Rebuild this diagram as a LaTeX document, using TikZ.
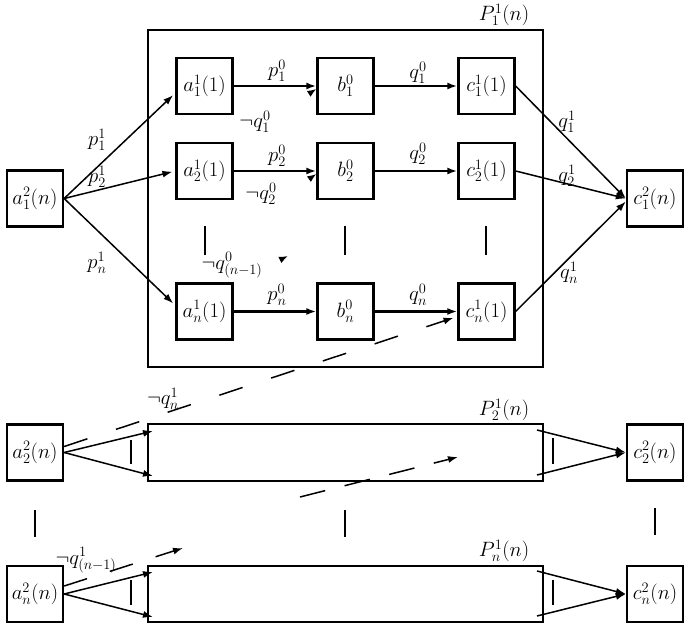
\documentclass[tikz,border=0pt]{standalone}
\usetikzlibrary{arrows.meta}
\newcommand{\fsz}{\fontsize{19.5}{23}\selectfont}
\begin{document}
\begin{tikzpicture}[x=1pt,y=-1pt,
  box/.style={draw, line width=2.3pt, minimum width=56pt, minimum height=56pt, inner sep=0pt, font=\fsz},
  bigbox/.style={draw, line width=2.3pt},
  lab/.style={inner sep=0pt, font=\fsz},
  arr/.style={line width=1.5pt, -{Latex[length=10pt,width=7pt]}},
  thickarr/.style={line width=2.3pt, -{Latex[length=10pt,width=7pt]}},
  ghost/.style={line width=1.5pt, dash pattern=on 0pt off 2000pt, -{Latex[length=9pt,width=7pt]}},
  dasharr/.style={line width=1.5pt, -{Latex[length=10pt,width=7pt]}},
  vbar/.style={line width=1.8pt}]
\useasboundingbox (0,0) rectangle (691,626);
% ---------- top block ----------
\coordinate (P1nw) at (148,30);
\coordinate (P1se) at (543,367);
\draw[bigbox] (P1nw) rectangle (P1se);
\node[lab] (P1l) at (504,15) {$P_1^1(n)$};
\node[box] (A12) at (35,198.5) {$a_1^2(n)$};
\node[box] (C12) at (655,198.5) {$c_1^2(n)$};
\node[box] (a11) at (204.5,86) {$a_1^1(1)$};
\node[box] (a21) at (204.5,171) {$a_2^1(1)$};
\node[box] (an1) at (204.5,311.5) {$a_n^1(1)$};
\node[box] (b11) at (345.5,86) {$b_1^0$};
\node[box] (b21) at (345.5,171) {$b_2^0$};
\node[box] (bn1) at (345.5,311.5) {$b_n^0$};
\node[box] (c11) at (486.5,86) {$c_1^1(1)$};
\node[box] (c21) at (486.5,171) {$c_2^1(1)$};
\node[box] (cn1) at (486.5,311.5) {$c_n^1(1)$};
% arrows from a_1^2(n)
\draw[arr, shorten >=3pt] (A12.east) -- ([yshift=-7pt]a11.west);
\draw[arr, shorten >=3pt] (A12.east) -- (a21.west);
\draw[arr, shorten >=3pt] (A12.east) -- ([yshift=6pt]an1.west);
\node[lab] (lp11) at (97,140) {$p_1^1$};
\node[lab] (lp21) at (97,177) {$p_2^1$};
\node[lab] (lpn1) at (97,263) {$p_n^1$};
% horizontal arrows
\draw[thickarr] (a11.east) -- (b11.west);
\draw[thickarr] (a21.east) -- (b21.west);
\draw[thickarr] (an1.east) -- (bn1.west);
\draw[thickarr] (b11.east) -- (c11.west);
\draw[thickarr] (b21.east) -- (c21.west);
\draw[thickarr] (bn1.east) -- (cn1.west);
\node[lab] (lp10) at (277,71) {$p_1^0$};
\node[lab] (lp20) at (277,156) {$p_2^0$};
\node[lab] (lpn0) at (277,295) {$p_n^0$};
\node[lab] (lq10) at (418,73) {$q_1^0$};
\node[lab] (lq20) at (418,154) {$q_2^0$};
\node[lab] (lqn0) at (418,295) {$q_n^0$};
% arrows to c_1^2(n)
\draw[arr] (c11.east) -- (C12.west);
\draw[arr] (c21.east) -- (C12.west);
\draw[arr] (cn1.east) -- ([yshift=-3pt]C12.west);
\node[lab] (lq11) at (567,122) {$q_1^1$};
\node[lab] (lq21) at (567,176) {$q_2^1$};
\node[lab] (lqn1) at (569,273) {$q_n^1$};
% vertical dots
\draw[vbar] (205,226) -- (205,255);
\draw[vbar] (345,226) -- (345,255);
\draw[vbar] (486,226) -- (486,255);
% negated back arrows (only tips visible)
\coordinate (a31) at (233,232);
\coordinate (bm1) at (288,256);
\draw[ghost] (a21.north east) -- ([yshift=-3pt]b11.west);
\draw[ghost] (a31) -- ([yshift=-3pt]b21.west);
\draw[ghost] (an1.north east) -- (bm1);
\node[lab] (lnq10) at (255,122) {$\neg q_1^0$};
\node[lab] (lnq20) at (261,194) {$\neg q_2^0$};
\node[lab] (lnqm0) at (232,265) {$\neg q_{(n-1)}^0$};
% ---------- second block ----------
\coordinate (P2nw) at (148,424);
\coordinate (P2se) at (543,481);
\coordinate (P2sw) at (148,481);
\coordinate (P2ne) at (543,424);
\draw[bigbox] (P2nw) rectangle (P2se);
\node[lab] (P2l) at (504,410) {$P_2^1(n)$};
\node[box] (A22) at (35,452.5) {$a_2^2(n)$};
\node[box] (C22) at (655,452.5) {$c_2^2(n)$};
\draw[arr] (A22.east) -- ([xshift=5pt,yshift=-7pt]P2nw);
\draw[arr] (A22.east) -- ([xshift=5pt,yshift=5pt]P2sw);
\draw[arr] ([xshift=-6pt,yshift=-6pt]P2ne) -- (C22.west);
\draw[arr] ([xshift=-6pt,yshift=6pt]P2se) -- (C22.west);
\draw[vbar] (131,440) -- (131,464);
\draw[vbar] (553,438) -- (553,464);
% ---------- dots row ----------
\draw[vbar] (35,510) -- (35,537);
\draw[vbar] (345,510) -- (345,537);
\draw[vbar] (655,508) -- (655,535);
% ---------- last block ----------
\coordinate (Pnnw) at (148,566);
\coordinate (Pnse) at (543,622);
\coordinate (Pnsw) at (148,622);
\coordinate (Pnne) at (543,566);
\draw[bigbox] (Pnnw) rectangle (Pnse);
\node[lab] (Pnl) at (504,551) {$P_n^1(n)$};
\node[box] (An2) at (35,594) {$a_n^2(n)$};
\node[box] (Cn2) at (655,594) {$c_n^2(n)$};
\draw[arr] (An2.east) -- ([xshift=5pt,yshift=-6pt]Pnnw);
\draw[arr] (An2.east) -- ([xshift=5pt,yshift=5pt]Pnsw);
\draw[arr] ([xshift=-6pt,yshift=-5pt]Pnne) -- (Cn2.west);
\draw[arr] ([xshift=-6pt,yshift=6pt]Pnse) -- (Cn2.west);
\draw[vbar] (131,580) -- (131,605);
\draw[vbar] (553,580) -- (553,605);
% ---------- dashed negated arrows ----------
\coordinate (qm1) at (183,548);
\coordinate (d3s) at (300,497);
\coordinate (d3e) at (458,457);
\draw[dasharr, dash pattern=on 24.5pt off 30pt, shorten >=4pt] ([yshift=6pt]A22.east) -- ([yshift=-5pt]cn1.west);
\draw[dasharr, dash pattern=on 24pt off 24pt] ([yshift=8pt]An2.east) -- (qm1);
\draw[dasharr, dash pattern=on 26pt off 20pt] (d3s) -- (d3e);
\node[lab] (lnqn1) at (163,399) {$\neg q_n^1$};
\node[lab] (lnqm1) at (86,560) {$\neg q_{(n-1)}^1$};
\end{tikzpicture}
\end{document}
